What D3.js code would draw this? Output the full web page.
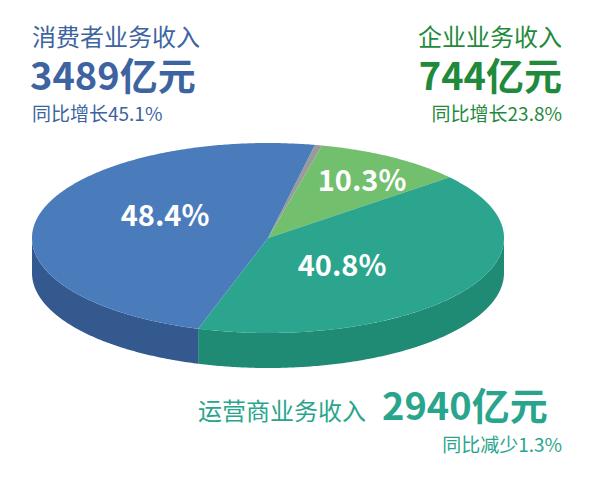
<!DOCTYPE html>
<html><head><meta charset="utf-8">
<script src="https://cdn.jsdelivr.net/npm/d3@7"></script>
<style>body{margin:0;background:#fff}</style>
</head><body>
<svg id="chart" width="594" height="479"></svg>
<script>
const segments = ['other', 'enterprise', 'carrier', 'consumer'];
const shares = [0.5, 10.3, 40.8, 48.4];
const topColors = ['#9a9a9a', '#72bf6e', '#2ca58e', '#4a7cbc'];
const sideColors = ['#777', '#4f9a4c', '#1f8b75', '#34598f'];
const labels = ['', '10.3%', '40.8%', '48.4%'];

const svg = d3.select('#chart');
const cx = 268, cy = 238, rx = 236, ry = 95, depth = 35;

const pie = d3.pie().sort(null).startAngle(0.2).endAngle(0.2 + 2 * Math.PI);
const arcs = pie(shares);

function pt(a, dy = 0) {
  return [cx + rx * Math.sin(a), cy - ry * Math.cos(a) + dy];
}

function topPath(a0, a1) {
  let p = d3.path();
  p.moveTo(cx, cy);
  for (let a = a0; a <= a1; a += 0.01) p.lineTo(...pt(a));
  p.lineTo(...pt(a1));
  p.closePath();
  return p.toString();
}

function sidePath(a0, a1) {
  let s = Math.max(a0, Math.PI / 2), e = Math.min(a1, 3 * Math.PI / 2);
  if (e <= s) return null;
  let p = d3.path();
  p.moveTo(...pt(s));
  for (let a = s; a <= e; a += 0.01) p.lineTo(...pt(a));
  p.lineTo(...pt(e));
  for (let a = e; a >= s; a -= 0.01) p.lineTo(...pt(a, depth));
  p.lineTo(...pt(s, depth));
  p.closePath();
  return p.toString();
}

arcs.forEach((d, i) => {
  [0, -2 * Math.PI].forEach(off => {
    let path = sidePath(d.startAngle + off, d.endAngle + off);
    if (path) svg.append('path').attr('d', path).attr('fill', sideColors[i]);
  });
});

arcs.forEach((d, i) => {
  svg.append('path').attr('d', topPath(d.startAngle, d.endAngle)).attr('fill', topColors[i]);
});

const labelPos = [null, [362, 183], [342, 268], [165, 218]];
arcs.forEach((d, i) => {
  if (!labels[i]) return;
  svg.append('text').attr('x', labelPos[i][0]).attr('y', labelPos[i][1])
    .attr('text-anchor', 'middle').attr('dominant-baseline', 'middle')
    .attr('fill', '#fff').attr('font-size', 29).attr('font-weight', 'bold')
    .attr('font-family', 'Noto Sans CJK SC, sans-serif').text(labels[i]);
});

function txt(x, y, s, size, color, anchor = 'start', weight = 'normal') {
  return svg.append('text').attr('x', x).attr('y', y).attr('font-size', size)
    .attr('fill', color).attr('text-anchor', anchor).attr('font-weight', weight)
    .attr('font-family', 'Noto Sans CJK SC, sans-serif').text(s);
}

txt(32, 46, '消费者业务收入', 24, '#3d64a0');
txt(30, 90, '3489亿元', 38, '#3d64a0', 'start', 'bold');
txt(32, 121, '同比增长45.1%', 19, '#3d64a0');

txt(562, 46, '企业业务收入', 24, '#1f8a3c', 'end');
txt(562, 90, '744亿元', 38, '#1f8a3c', 'end', 'bold');
txt(562, 121, '同比增长23.8%', 19, '#1f8a3c', 'end');

txt(198, 420, '运营商业务收入', 24, '#2aa58d');
txt(382, 420, '2940亿元', 38, '#2aa58d', 'start', 'bold');
txt(562, 452, '同比减少1.3%', 19, '#2aa58d', 'end');
</script>
</body></html>
